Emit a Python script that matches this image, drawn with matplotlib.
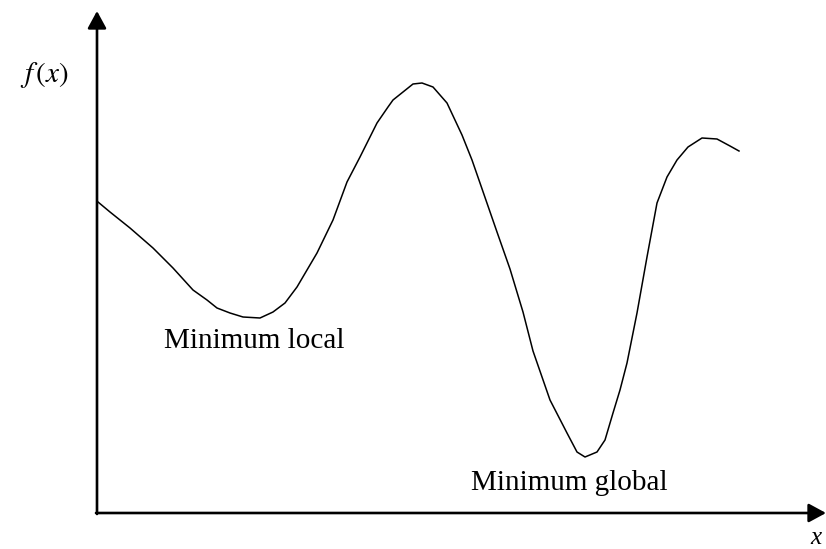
import matplotlib
matplotlib.use("Agg")
import matplotlib.pyplot as plt

# Curve (x to the right of the y axis, f upward from the x axis)
curve_x = [1, 13, 33, 56, 76, 96, 110, 120, 133, 146, 163, 176, 188, 200,
           220, 236, 250, 263, 280, 291, 296, 306, 316, 325, 336, 350, 365,
           375, 383, 400, 413, 426, 436, 453, 470, 480, 488, 500, 508, 516,
           523, 530, 540, 550, 560, 570, 580, 591, 605, 620, 633, 642]
curve_f = [311, 301, 285, 265, 245, 223, 213, 205, 200, 196, 195, 201, 210, 226,
           260, 293, 331, 356, 390, 406, 413, 421, 429, 430, 426, 410, 378,
           353, 330, 281, 244, 201, 162, 113, 80, 61, 56, 61, 73, 100,
           123, 150, 200, 256, 310, 336, 353, 366, 375, 374, 367, 362]

annotations = ["Minimum local", "Minimum global"]
annot_x = [157, 472]
annot_f = [165, 23]

x_label = "x"
y_label = r"$f\,(x)$"

fig = plt.figure(figsize=(8.26, 5.49), dpi=100)
ax = fig.add_axes([0, 0, 1, 1])
ax.set_xlim(-97, 729)
ax.set_ylim(-36, 513)
ax.axis("off")

# axes with arrow heads
arrow_kw = dict(arrowstyle="-|>,head_length=0.7,head_width=0.38", color="black",
                lw=1.9, mutation_scale=15, shrinkA=0, shrinkB=0)
ax.annotate("", xy=(729, 0), xytext=(-1, 0), arrowprops=arrow_kw)
ax.annotate("", xy=(0, 502), xytext=(0, -1), arrowprops=arrow_kw)

ax.plot(curve_x, curve_f, color="black", lw=1.1, solid_joinstyle="round")

plt.rcParams["mathtext.fontset"] = "stix"
for txt, xx, yy in zip(annotations, annot_x, annot_f):
    ax.text(xx, yy, txt, ha="center", va="baseline", fontsize=21,
            family="Liberation Serif")

ax.text(-53, 438, y_label, ha="center", va="center", fontsize=21)
ax.text(719, -25, x_label, ha="center", va="center", fontsize=18,
        family="Liberation Serif", style="italic")

fig.savefig("out.png", dpi=100)
